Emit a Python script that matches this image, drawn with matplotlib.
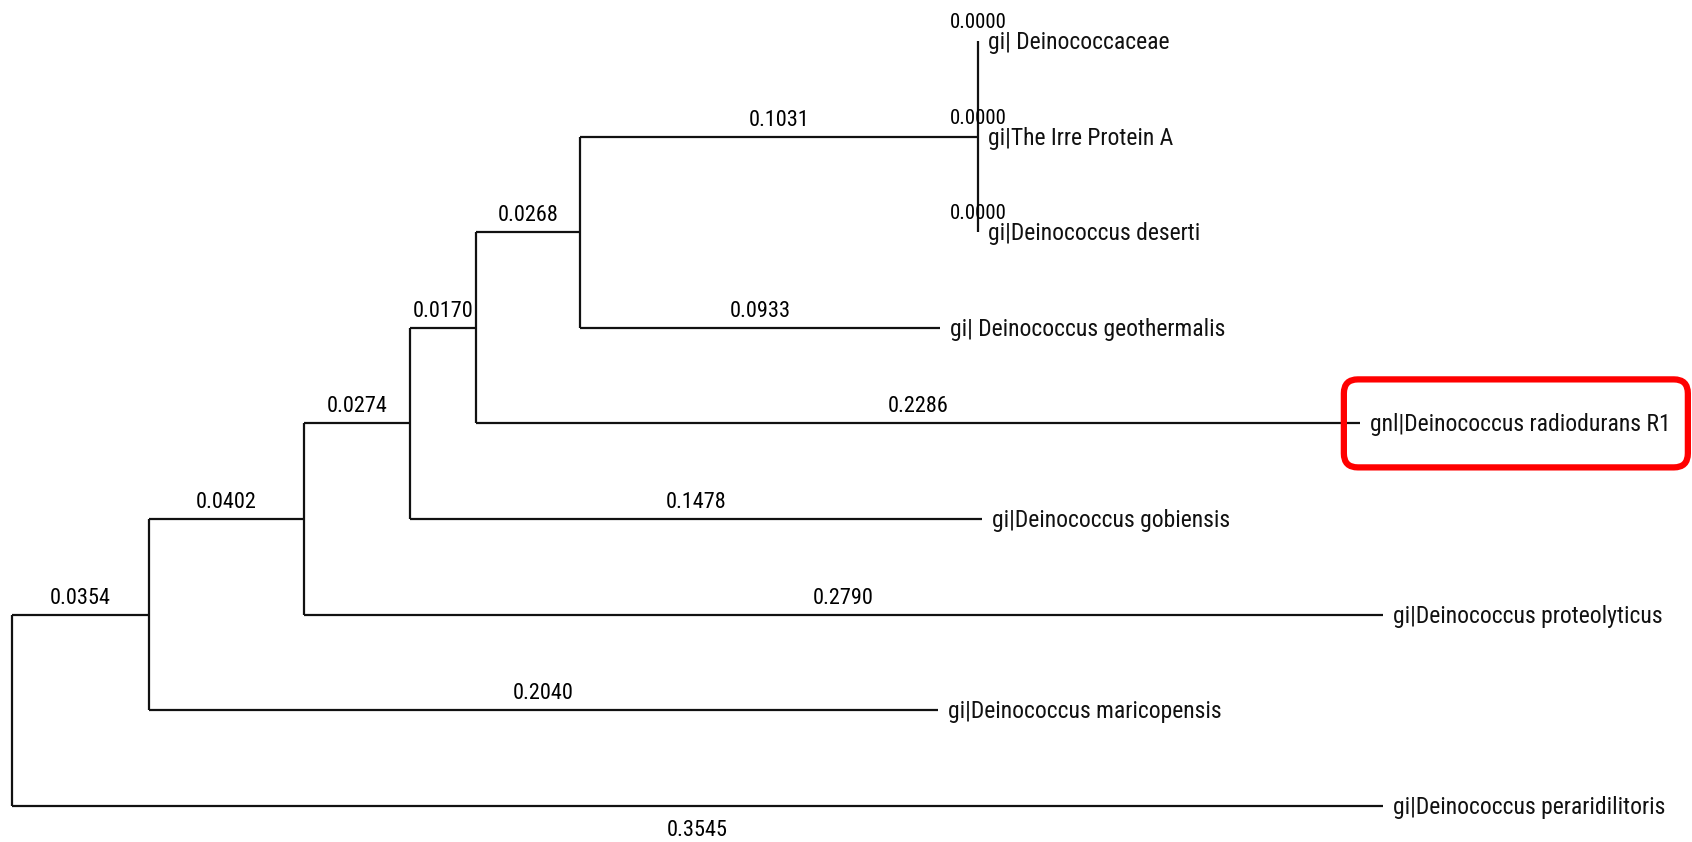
import matplotlib.pyplot as plt
from matplotlib import font_manager
from matplotlib.patches import FancyBboxPatch
from matplotlib.transforms import IdentityTransform

# Leaves, top to bottom
leaves = ["gi| Deinococcaceae", "gi|The Irre Protein A", "gi|Deinococcus deserti",
          "gi| Deinococcus geothermalis", "gnl|Deinococcus radiodurans R1",
          "gi|Deinococcus gobiensis", "gi|Deinococcus proteolyticus",
          "gi|Deinococcus maricopensis", "gi|Deinococcus peraridilitoris"]

# Each clade is a list of (child, branch length); a leaf child is its index into leaves
tripleClade = [(0, 0.0000), (1, 0.0000), (2, 0.0000)]
cladeE = [(tripleClade, 0.1031), (3, 0.0933)]
cladeD = [(cladeE, 0.0268), (4, 0.2286)]
cladeC = [(cladeD, 0.0170), (5, 0.1478)]
cladeB = [(cladeC, 0.0274), (6, 0.2790)]
cladeA = [(cladeB, 0.0402), (7, 0.2040)]
root = [(cladeA, 0.0354), (8, 0.3545)]

highlight = 4
labelBelow = 8

fontNames = {f.name for f in font_manager.fontManager.ttflist}
if "Roboto Condensed" in fontNames:
    textStyle = dict(family="Roboto Condensed")
else:
    textStyle = dict(family="DejaVu Sans", stretch="condensed")
fontSize = 16
leafSize = 17

fig = plt.figure(figsize=(16.92, 8.42), dpi=100)
ax = fig.add_axes([0, 0, 1, 1])
ax.set_xlim(-0.0031, 0.4345)
ax.set_ylim(8.38, -0.43)
ax.axis("off")

lineStyle = dict(color="#111111", lw=1.6, solid_capstyle="butt")
leafEnds = {}

#Draws a clade whose node sits at x, returns the y of that node.
def drawNode(children, x):
    ys = []
    for child, length in children:
        xEnd = x + length
        if isinstance(child, int):
            y = child
            leafEnds[child] = xEnd
        else:
            y = drawNode(child, xEnd)
        ys.append(y)
        ax.plot([x, xEnd], [y, y], **lineStyle)
        label = "%.4f" % length
        if length == 0:
            ax.annotate(label, (x, y), xytext=(0, 13), textcoords="offset pixels",
                        ha="center", va="baseline", fontsize=fontSize - 1, **textStyle)
        elif child == labelBelow:
            ax.annotate(label, ((x + xEnd) / 2, y), xytext=(0, -14), textcoords="offset pixels",
                        ha="center", va="top", fontsize=fontSize, **textStyle)
        else:
            ax.annotate(label, ((x + xEnd) / 2, y), xytext=(0, 11), textcoords="offset pixels",
                        ha="center", va="baseline", fontsize=fontSize, **textStyle)
    ax.plot([x, x], [min(ys), max(ys)], **lineStyle)
    return (min(ys) + max(ys)) / 2

drawNode(root, 0.0)

for i, name in enumerate(leaves):
    ax.annotate(name, (leafEnds[i], i), xytext=(10, -8), textcoords="offset pixels",
                ha="left", va="baseline", fontsize=leafSize, color="#111111", **textStyle)

# Red rounded box round the highlighted leaf
fig.canvas.draw()
px, py = ax.transData.transform((leafEnds[highlight], highlight))
box = FancyBboxPatch((px - 16, py - 44), 344, 88, boxstyle="round,pad=0,rounding_size=14",
                     transform=IdentityTransform(), fill=False, ec="#ff0000", lw=4.5)
fig.patches.append(box)

fig.savefig("out.png", dpi=100)
